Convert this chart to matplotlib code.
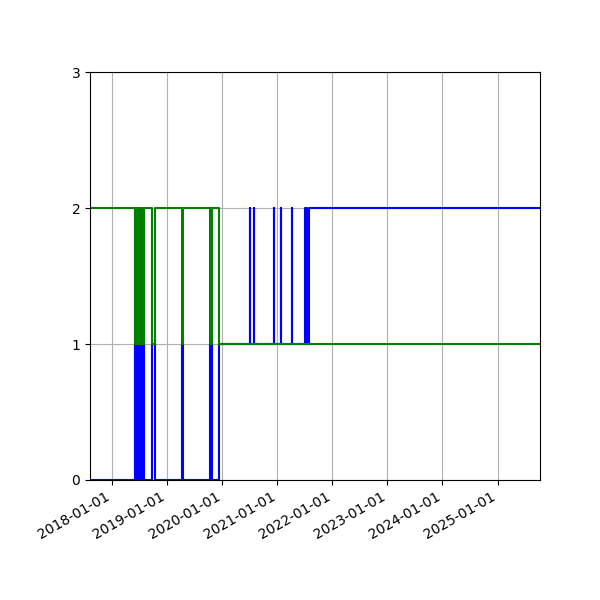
import matplotlib
matplotlib.use('Agg')
import matplotlib.pyplot as plt
import matplotlib.dates as mdates
import pandas as pd

# blue series: step changes (date, value)
blue_dates = ['2017-08-06', '2018-05-31', '2018-06-03', '2018-06-06', '2018-06-09', '2018-06-12',
              '2018-06-15', '2018-06-19', '2018-06-22', '2018-06-25', '2018-06-28', '2018-07-01',
              '2018-07-04', '2018-07-07', '2018-07-10', '2018-07-13', '2018-07-16', '2018-07-19',
              '2018-07-22', '2018-07-25', '2018-07-30',
              '2018-09-21', '2018-10-09', '2019-04-11', '2019-04-12',
              '2019-10-14', '2019-10-19', '2019-10-22', '2019-12-10',
              '2020-07-03', '2020-07-05', '2020-07-26', '2020-07-28', '2020-12-10', '2020-12-11',
              '2021-01-24', '2021-01-25', '2021-04-09', '2021-04-10', '2021-07-05', '2021-07-14',
              '2021-07-27', '2025-10-09']
blue_values = [0, 1, 0, 1, 0, 1,
               2, 1, 0, 1, 0, 1,
               0, 1, 0, 1, 0, 1,
               0, 1, 0,
               1, 0, 1, 0,
               1, 2, 0, 1,
               2, 1, 2, 1, 2, 1,
               2, 1, 2, 1, 2, 1,
               2, 2]

# green series
green_dates = ['2017-08-06', '2018-05-31', '2018-06-03', '2018-06-06', '2018-06-09', '2018-06-12',
               '2018-06-22', '2018-06-25', '2018-06-28', '2018-07-01', '2018-07-04', '2018-07-07',
               '2018-07-10', '2018-07-13', '2018-07-16', '2018-07-19', '2018-07-22', '2018-07-25',
               '2018-07-30', '2018-09-21', '2018-10-09', '2019-04-11', '2019-04-12',
               '2019-10-14', '2019-10-22', '2019-12-12', '2025-10-09']
green_values = [2, 1, 2, 1, 2, 1,
                2, 1, 2, 1, 2, 1,
                2, 1, 2, 1, 2, 1,
                2, 1, 2, 1, 2,
                1, 2, 1, 1]

blue_x = pd.to_datetime(blue_dates)
green_x = pd.to_datetime(green_dates)

fig, ax = plt.subplots(figsize=(6, 6), dpi=100)
ax.plot(blue_x, blue_values, color='blue', drawstyle='steps-post')
ax.plot(green_x, green_values, color='green', drawstyle='steps-post')

ax.set_xlim(blue_x[0], blue_x[-1])
ax.set_ylim(0, 3)
ax.set_yticks([0, 1, 2, 3])
ax.xaxis.set_major_locator(mdates.YearLocator())
ax.xaxis.set_major_formatter(mdates.DateFormatter('%Y-%m-%d'))
ax.grid(True)
fig.autofmt_xdate()
plt.subplots_adjust(left=0.15)
plt.savefig('out.png')
